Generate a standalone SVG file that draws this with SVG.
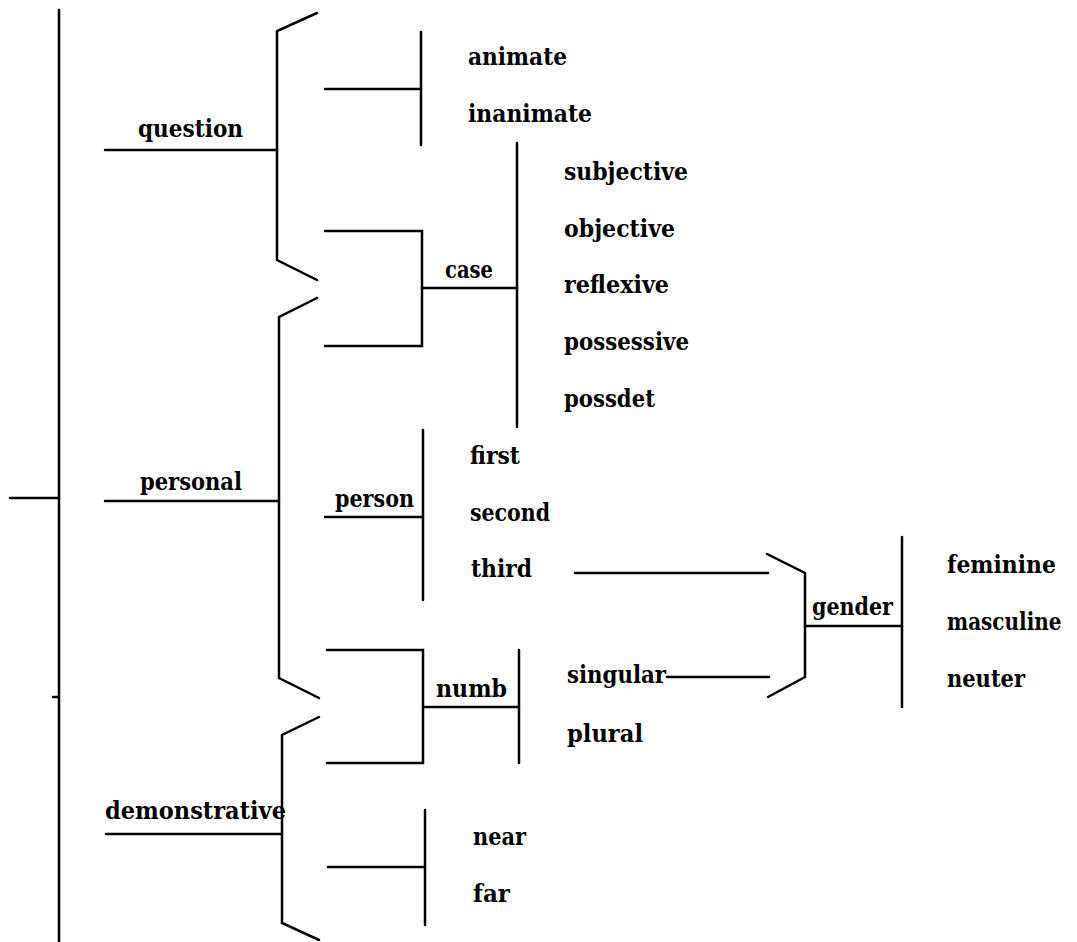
<svg xmlns="http://www.w3.org/2000/svg" width="1077" height="942" viewBox="0 0 1077 942">
  <style>
    .ln { stroke: #000; stroke-width: 2.5; fill: none; stroke-linecap: round; stroke-linejoin: miter; }
    .t { font-family: "DejaVu Serif", "Liberation Serif", serif; font-weight: bold; font-size: 25px; fill: #000; }
  </style>
  <rect width="1077" height="942" fill="#fff"/>

  <!-- connectors: system lines, brackets and bars -->
  <g id="connectors" class="ln">
    <!-- root -->
    <line x1="10" y1="498" x2="59" y2="498"/>
    <line x1="59" y1="10" x2="59" y2="942"/>
    <line x1="53" y1="697" x2="59" y2="697"/>
    <!-- question -->
    <line x1="105" y1="150" x2="277" y2="150"/>
    <polyline points="317,13 277,31 277,260 317,280"/>
    <!-- personal -->
    <line x1="105" y1="501" x2="279" y2="501"/>
    <polyline points="317,298 279,317 279,678 319,698"/>
    <!-- demonstrative -->
    <line x1="106" y1="834" x2="282" y2="834"/>
    <polyline points="319,717 282,735 282,923 319,940"/>
    <!-- animacy -->
    <line x1="325" y1="89" x2="421" y2="89"/>
    <line x1="421" y1="32" x2="421" y2="145"/>
    <!-- case -->
    <polyline points="325,231 422,231 422,346 325,346"/>
    <line x1="422" y1="288" x2="517" y2="288"/>
    <line x1="517" y1="143" x2="517" y2="427"/>
    <!-- person -->
    <line x1="325" y1="517" x2="423" y2="517"/>
    <line x1="423" y1="430" x2="423" y2="600"/>
    <!-- numb -->
    <polyline points="327,650 423,650 423,763 327,763"/>
    <line x1="423" y1="707" x2="519" y2="707"/>
    <line x1="519" y1="650" x2="519" y2="763"/>
    <!-- near / far -->
    <line x1="328" y1="867" x2="425" y2="867"/>
    <line x1="425" y1="810" x2="425" y2="925"/>
    <!-- gender entry -->
    <line x1="575" y1="573" x2="768" y2="573"/>
    <line x1="667" y1="677" x2="769" y2="677"/>
    <polyline points="767,554 805,573 805,677 768,697"/>
    <line x1="805" y1="626" x2="902" y2="626"/>
    <line x1="902" y1="537" x2="902" y2="707"/>
  </g>

  <g id="node-question"><text class="t" x="138" y="137" textLength="105" lengthAdjust="spacingAndGlyphs">question</text></g>
  <g id="node-personal"><text class="t" x="140" y="490" textLength="102" lengthAdjust="spacingAndGlyphs">personal</text></g>
  <g id="node-demonstrative"><text class="t" x="105" y="819" textLength="181" lengthAdjust="spacingAndGlyphs">demonstrative</text></g>

  <g id="node-animate"><text class="t" x="468" y="65" textLength="99" lengthAdjust="spacingAndGlyphs">animate</text></g>
  <g id="node-inanimate"><text class="t" x="468" y="122" textLength="124" lengthAdjust="spacingAndGlyphs">inanimate</text></g>

  <g id="node-case"><text class="t" x="445" y="278" textLength="48" lengthAdjust="spacingAndGlyphs">case</text></g>
  <g id="node-subjective"><text class="t" x="564" y="180" textLength="124" lengthAdjust="spacingAndGlyphs">subjective</text></g>
  <g id="node-objective"><text class="t" x="564" y="237" textLength="111" lengthAdjust="spacingAndGlyphs">objective</text></g>
  <g id="node-reflexive"><text class="t" x="564" y="293" textLength="105" lengthAdjust="spacingAndGlyphs">reflexive</text></g>
  <g id="node-possessive"><text class="t" x="564" y="350" textLength="125" lengthAdjust="spacingAndGlyphs">possessive</text></g>
  <g id="node-possdet"><text class="t" x="564" y="407" textLength="91" lengthAdjust="spacingAndGlyphs">possdet</text></g>

  <g id="node-person"><text class="t" x="335" y="507" textLength="79" lengthAdjust="spacingAndGlyphs">person</text></g>
  <g id="node-first"><text class="t" x="470" y="464" textLength="50" lengthAdjust="spacingAndGlyphs">first</text></g>
  <g id="node-second"><text class="t" x="470" y="521" textLength="80" lengthAdjust="spacingAndGlyphs">second</text></g>
  <g id="node-third"><text class="t" x="471" y="577" textLength="61" lengthAdjust="spacingAndGlyphs">third</text></g>

  <g id="node-numb"><text class="t" x="436" y="697" textLength="71" lengthAdjust="spacingAndGlyphs">numb</text></g>
  <g id="node-singular"><text class="t" x="567" y="683" textLength="99" lengthAdjust="spacingAndGlyphs">singular</text></g>
  <g id="node-plural"><text class="t" x="567" y="742" textLength="76" lengthAdjust="spacingAndGlyphs">plural</text></g>

  <g id="node-near"><text class="t" x="473" y="845" textLength="53" lengthAdjust="spacingAndGlyphs">near</text></g>
  <g id="node-far"><text class="t" x="473" y="902" textLength="37" lengthAdjust="spacingAndGlyphs">far</text></g>

  <g id="node-gender"><text class="t" x="812" y="615" textLength="81" lengthAdjust="spacingAndGlyphs">gender</text></g>
  <g id="node-feminine"><text class="t" x="947" y="573" textLength="109" lengthAdjust="spacingAndGlyphs">feminine</text></g>
  <!-- narrowed horizontally so the word stays inside the right edge -->
  <g id="node-masculine"><text class="t" transform="translate(947,630) scale(0.8,1)">masculine</text></g>
  <g id="node-neuter"><text class="t" x="947" y="687" textLength="78" lengthAdjust="spacingAndGlyphs">neuter</text></g>
</svg>
